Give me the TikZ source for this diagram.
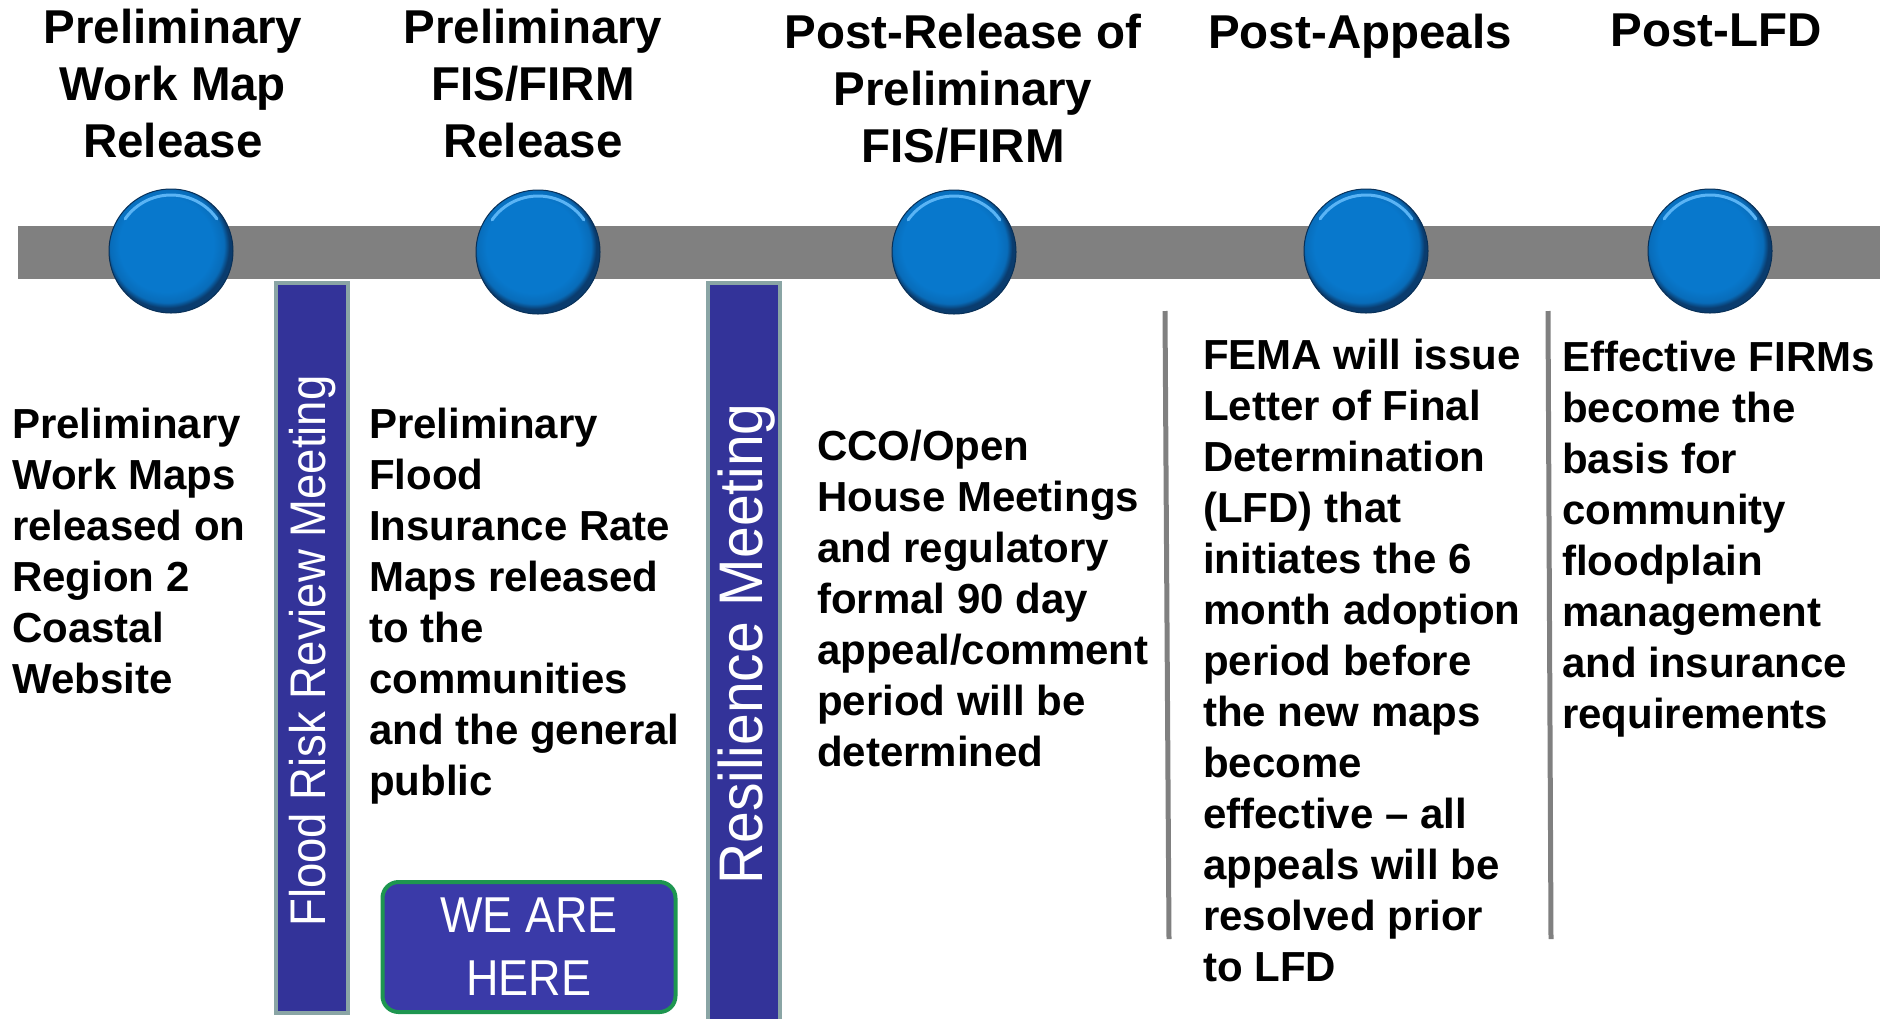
\documentclass[tikz,border=0pt]{standalone}
\usepackage{fontspec}
\setmainfont{Liberation Sans}
\usetikzlibrary{shapes.misc}
\definecolor{barGray}{RGB}{128,128,128}
\definecolor{ballBlue}{RGB}{8,120,204}
\definecolor{ballDark}{RGB}{10,60,110}
\definecolor{ballHi}{RGB}{90,180,245}
\definecolor{pPurple}{RGB}{51,51,153}
\definecolor{pEdge}{RGB}{138,165,165}
\definecolor{hereFill}{RGB}{58,58,168}
\definecolor{hereEdge}{RGB}{30,150,80}
\pgfdeclareradialshading{ballshade}{\pgfpoint{-3bp}{4bp}}{color(0bp)=(ballBlue); color(19bp)=(ballBlue); color(23bp)=(ballBlue!80!ballDark); color(25bp)=(ballDark); color(50bp)=(ballDark)}
\tikzset{
  ball/.style={circle, minimum size=124pt, inner sep=0pt, shading=ballshade, draw=ballDark!80!black, line width=1pt,
    path picture={\draw[ballHi, line width=3pt, line cap=round] (path picture bounding box.center) ++(145:56pt) arc (145:35:56pt);}},
  pbar/.style={rectangle, fill=pPurple, draw=pEdge, line width=4pt, inner sep=0pt, minimum width=72pt},
  vlabel/.style={text=white, rotate=90, inner sep=0pt},
  title/.style={align=center, anchor=north, inner sep=0pt, font=\fontsize{47.5}{57}\selectfont\bfseries},
  body/.style={align=left, anchor=north west, inner sep=0pt, font=\fontsize{42}{51}\selectfont\bfseries},
  sep/.style={draw=barGray, line width=5pt},
  herebox/.style={rectangle, rounded corners=16pt, fill=hereFill, draw=hereEdge, line width=4pt, minimum width=293pt, minimum height=130pt, text=white, align=center, font=\fontsize{45}{63}\selectfont}
}
\begin{document}
\begin{tikzpicture}[x=1pt,y=-1pt]
\path[use as bounding box] (0,0) rectangle (1887,1018);
% timeline bar
\fill[barGray] (18,226) rectangle (1880,279);
% meeting bars
\node[pbar, minimum height=730pt, anchor=north] (frr) at (312,281) {};
\node[pbar, minimum height=740pt, anchor=north] (res) at (744,281) {};
\node[vlabel, font=\fontsize{45.5}{50}\selectfont] (frrt) at (313,651) {\scalebox{1}[1.1]{Flood Risk Review Meeting}};
\node[vlabel, font=\fontsize{57}{60}\selectfont] (rest) at (747,644) {\scalebox{1}[1.08]{Resilience Meeting}};
% milestones
\node[ball] (m1) at (171,251) {};
\node[ball] (m2) at (538,252) {};
\node[ball] (m3) at (954,252) {};
\node[ball] (m4) at (1366,251) {};
\node[ball] (m5) at (1710,251) {};
% titles
\node[title] (t1) at (173,9) {Preliminary\\Work Map\\Release};
\node[title] (t2) at (533,9) {Preliminary\\FIS/FIRM\\Release};
\node[title] (t3) at (963,14) {Post-Release of\\Preliminary\\FIS/FIRM};
\node[title] (t4) at (1360,14) {Post-Appeals};
\node[title] (t5) at (1716,14) {Post-LFD};
% descriptions
\node[body] (d1) at (12,408) {Preliminary\\Work Maps\\released on\\Region 2\\Coastal\\Website};
\node[body] (d2) at (369,408) {Preliminary\\Flood\\Insurance Rate\\Maps released\\to the\\communities\\and the general\\public};
\node[body] (d3) at (817,430) {CCO/Open\\House Meetings\\and regulatory\\formal 90 day\\appeal/comment\\period will be\\determined};
\node[body] (d4) at (1203,339) {FEMA will issue\\Letter of Final\\Determination\\(LFD) that\\initiates the 6\\month adoption\\period before\\the new maps\\become\\effective – all\\appeals will be\\resolved prior\\to LFD};
\node[body] (d5) at (1562,341) {Effective FIRMs\\become the\\basis for\\community\\floodplain\\management\\and insurance\\requirements};
% separators
\coordinate (s1a) at (1165,311);
\coordinate (s1b) at (1169,939);
\coordinate (s2a) at (1548,311);
\coordinate (s2b) at (1551,939);
\draw[sep] (s1a) -- (s1b);
\draw[sep] (s2a) -- (s2b);
% we are here
\node[herebox] (here) at (529,947) {\scalebox{1}[1.12]{WE ARE}\\\scalebox{1}[1.12]{HERE}};
\end{tikzpicture}
\end{document}
